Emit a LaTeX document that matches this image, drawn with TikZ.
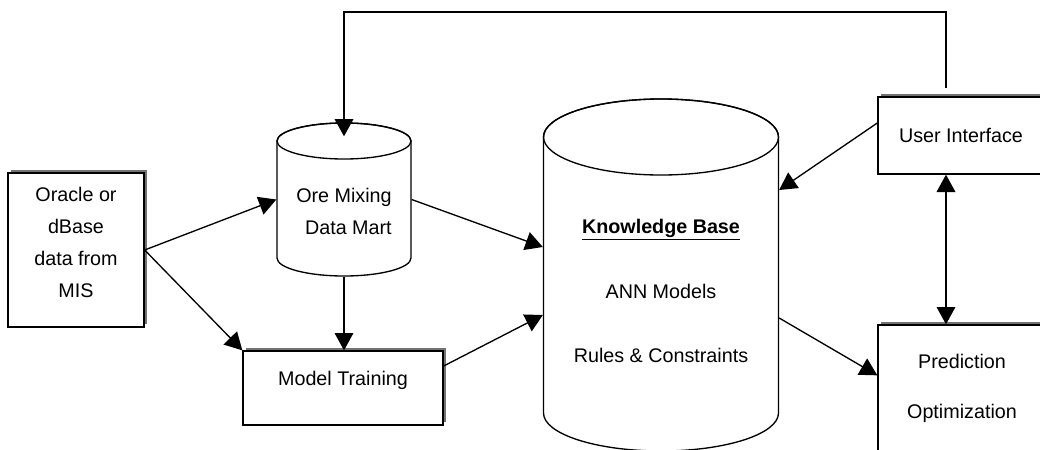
\documentclass[tikz,border=0pt]{standalone}
\usepackage{fontspec}
\setmainfont{Liberation Sans}
\usetikzlibrary{arrows.meta,fit,shadows}
\begin{document}
\begin{tikzpicture}[x=0.75pt,y=-0.75pt,
  line width=1pt,
  box/.style={draw, fill=white, inner sep=0pt, line width=1pt,
    general shadow={fill=black!55, shadow xshift=2pt, shadow yshift=2pt}},
  drum/.style={inner sep=0pt, draw=none},
  lbl/.style={font=\fontsize{14.8}{24}\selectfont, align=center, inner sep=0pt},
  tip/.tip={Triangle[length=13pt,width=14pt]},
  arr/.style={-tip},
  dblarr/.style={tip-tip}
]
\clip (0,0) rectangle (1040,450);
\fill[white] (0,0) rectangle (1040,450);

% source box
\node[box, lbl, fit={(8,173)(144,327)}] (src) {Oracle or\\dBase\\data from\\MIS};

% ore mixing data mart (drum)
\node[drum, fit={(277,123)(411,276)}] (om) {};
\filldraw[fill=white] (277,141) -- (277,258)
  arc[start angle=180, end angle=0, x radius=67, y radius=18] -- (411,141)
  arc[start angle=0, end angle=-180, x radius=67, y radius=18] -- cycle;
\draw (344,141) ellipse[x radius=67, y radius=18];
\node[lbl, align=right] at (344,211) {Ore Mixing\\Data Mart};

% model training
\node[box, lbl, fit={(243,351)(443,425)}] (mt) {Model Training};

% knowledge base (drum)
\node[drum, fit={(543.5,99)(778.5,451)}] (kb) {};
\filldraw[fill=white] (543.5,137) -- (543.5,413)
  arc[start angle=180, end angle=0, x radius=117.5, y radius=38] -- (778.5,137)
  arc[start angle=0, end angle=-180, x radius=117.5, y radius=38] -- cycle;
\draw (661,137) ellipse[x radius=117.5, y radius=38];
\node[lbl, font=\fontsize{14.8}{48.5}\selectfont] at (661,291)
  {\textbf{\underline{Knowledge Base}}\\ANN Models\\Rules \& Constraints};

% user interface
\node[box, lbl, fit={(878,97)(1044,174)}] (ui) {};
\node[lbl] at (961,135) {User Interface};

% prediction / optimization
\node[box, fit={(878,325)(1044,480)}] (pred) {};
\node[lbl, font=\fontsize{14.8}{37.5}\selectfont] at (962,388) {Prediction\\Optimization};

% connectors
\draw[arr] (src.east) -- (om.west);
\draw[arr] (src.east) -- (mt.north west);
\draw[arr] (om.south) -- (om.south |- mt.north);
\draw[arr] (om.east) -- ([yshift=21pt]kb.west);
\draw[arr] ([yshift=16.5pt]mt.east) -- ([yshift=-30pt]kb.west);
\draw[arr] ([yshift=9.4pt]ui.west) -- ([yshift=63.75pt]kb.east);
\draw[arr] ([yshift=-32.25pt]kb.east) -- ([yshift=-38.25pt]pred.north west);
\coordinate (bus) at (946,0);
\draw[dblarr] (ui.south -| bus) -- (pred.north -| bus);
\coordinate (fb) at (946,88);
\draw[arr] (fb) -- ++(0,-76) -| ([yshift=-10.5pt]om.north);
\end{tikzpicture}
\end{document}
